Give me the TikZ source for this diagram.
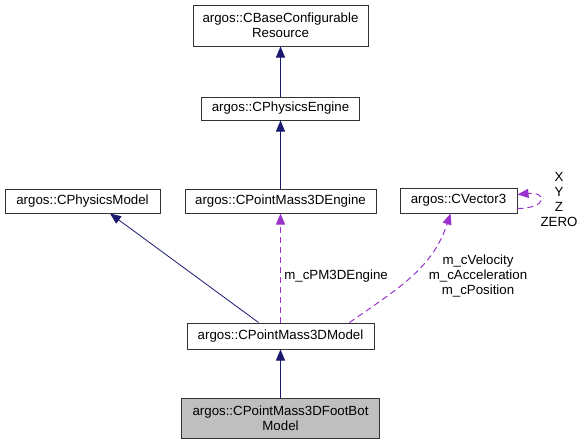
\documentclass[tikz,border=0pt]{standalone}
\usepackage{fontspec}
\setmainfont{Liberation Sans}
\usetikzlibrary{arrows.meta}
\definecolor{inhblue}{HTML}{191970}
\definecolor{usepurple}{HTML}{9A32CD}
\definecolor{boxgray}{HTML}{BFBFBF}

\begin{document}
\begin{tikzpicture}[x=1pt,y=-1pt,
   font=\fontsize{13.3}{15}\selectfont,
   cls/.style={draw=black!80,line width=1pt,inner sep=0pt,align=center},
   inh/.style={draw=inhblue,line width=0.8pt,-{Triangle[length=11pt,width=9pt,fill=inhblue]}},
   use/.style={draw=usepurple,line width=1pt,dash pattern=on 6pt off 4pt,-{Triangle[length=11pt,width=9pt,fill=usepurple]}}]
\useasboundingbox (0,0) rectangle (584,445);
       \node [cls,minimum width=175pt,minimum height=41pt] at (280.5,25.5) (base) {argos::CBaseConfigurable\\Resource};
          \node [cls,minimum width=158pt,minimum height=23pt] at (280.5,108.5) (physEngine) {argos::CPhysicsEngine};
             \node [cls,minimum width=155pt,minimum height=24pt] at (82.5,201) (physModel) {argos::CPhysicsModel};
              \node [cls,minimum width=191pt,minimum height=24pt] at (280.5,201) (pmEngine) {argos::CPointMass3DEngine};
               \node [cls,minimum width=117pt,minimum height=25pt] at (458.5,200.5) (vector3) {argos::CVector3};
                \node [cls,minimum width=187pt,minimum height=26pt] at (280.5,336) (pmModel) {argos::CPointMass3DModel};
                 \node [cls,fill=boxgray,minimum width=198pt,minimum height=40pt] at (280.5,418) (footBot) {argos::CPointMass3DFootBot\\Model};
%
\path (physEngine) edge [inh] (base);
\path (pmEngine) edge [inh] (physEngine);
\path ([xshift=-22pt]pmModel.north) edge [inh] ([xshift=27.5pt]physModel.south);
\path (footBot) edge [inh] (pmModel);
%
\path (pmModel) edge [use] node [right,pos=0.43] {m\_cPM3DEngine} (pmEngine);
\path ([xshift=69pt]pmModel.north) edge [use,out=35,in=-108] ([xshift=-8pt]vector3.south);
\node [align=center] at (478,275.5) (vecUse) {m\_cVelocity\\m\_cAcceleration\\m\_cPosition};
\draw [use] ([yshift=-8pt]vector3.east) .. controls +(30,0) and +(30,-3) .. ([yshift=6pt]vector3.east);
\node [align=center] at (559,199.5) (vecLbl) {X\\Y\\Z\\ZERO};
\end{tikzpicture}
\end{document}
